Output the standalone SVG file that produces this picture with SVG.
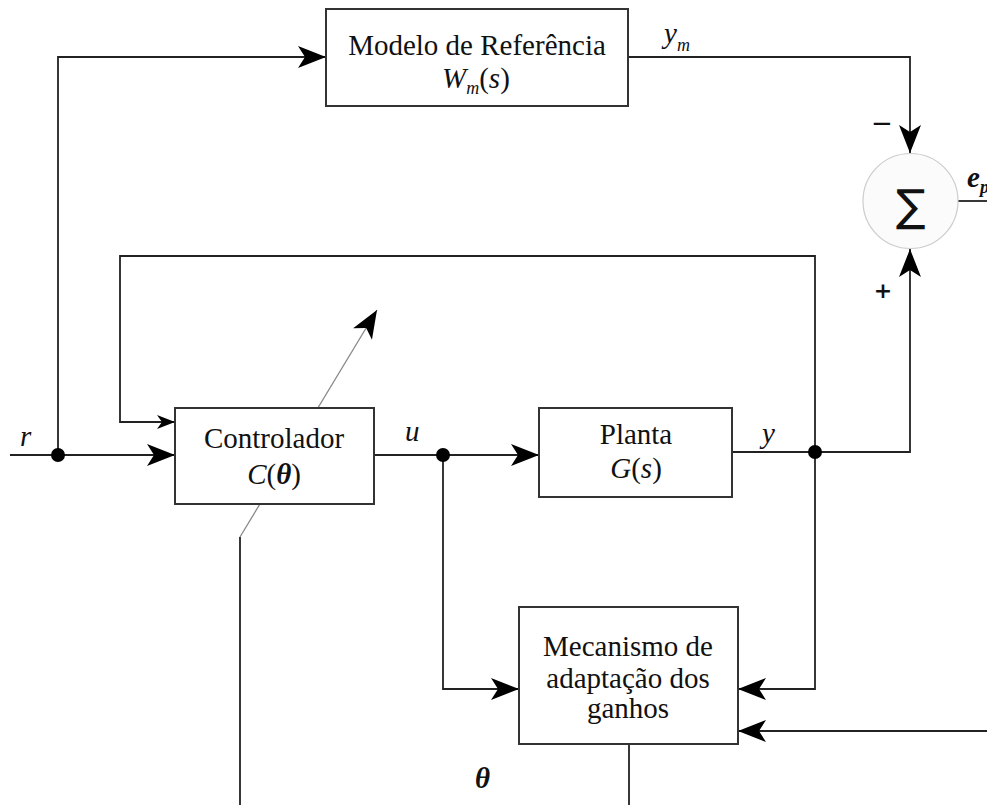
<svg xmlns="http://www.w3.org/2000/svg" width="987" height="805" viewBox="0 0 987 805">
<style>
.box{fill:#fff;stroke:#333;stroke-width:2}
.ln{fill:none;stroke:#222;stroke-width:1.8}
.t{font-family:"Liberation Serif","Times New Roman",serif;font-size:29px;fill:#111;text-anchor:middle}
.it{font-family:"Liberation Serif","Times New Roman",serif;font-style:italic;font-size:29px;fill:#111}
.sub{font-size:18px}
.dot{fill:#000}
.sg{font-family:"DejaVu Sans","Liberation Sans",sans-serif;fill:#111}
</style>
<defs>
<marker id="ah" markerUnits="userSpaceOnUse" viewBox="-29 -12 30 24" markerWidth="30" markerHeight="24" refX="0" refY="0" orient="auto">
<path d="M0,0 L-28,-11 L-21,0 L-28,11 Z" fill="#000"/>
</marker>
<marker id="ahs" markerUnits="userSpaceOnUse" viewBox="-19 -8 20 16" markerWidth="20" markerHeight="16" refX="0" refY="0" orient="auto">
<path d="M0,0 L-18,-7 L-13,0 L-18,7 Z" fill="#000"/>
</marker>
</defs>

<g id="connectors">
<path class="ln" d="M10,455 H175" marker-end="url(#ah)"/>
<path class="ln" d="M58,455 V57 H326" marker-end="url(#ah)"/>
<path class="ln" d="M628,57 H910 V153" marker-end="url(#ah)"/>
<path class="ln" d="M815,452 H910 V249" marker-end="url(#ah)"/>
<path class="ln" d="M958,201 H987"/>
<path class="ln" d="M815,452 V256 H120 V422 H175" marker-end="url(#ahs)"/>
<path class="ln" d="M374,455 H539" marker-end="url(#ah)"/>
<path class="ln" d="M732,452 H815"/>
<path class="ln" d="M443,455 V689 H519" marker-end="url(#ah)"/>
<path class="ln" d="M815,452 V689 H738" marker-end="url(#ah)"/>
<path class="ln" d="M987,731 H738" marker-end="url(#ah)"/>
<path class="ln" d="M629,744 V805"/>
<path class="ln" d="M240,805 V537"/>
<path d="M240,537 L377,310" fill="none" stroke="#888" stroke-width="1.3" marker-end="url(#ah)"/>
<circle class="dot" cx="58" cy="455" r="7"/>
<circle class="dot" cx="443" cy="455" r="7"/>
<circle class="dot" cx="815" cy="452" r="7"/>
</g>

<g id="modelo">
<rect class="box" x="326" y="9" width="302" height="97"/>
<text class="t" x="477" y="55">Modelo de Referência</text>
<text class="it" x="442" y="88">W<tspan class="sub" dy="6">m</tspan><tspan dy="-6" font-style="normal">(</tspan>s<tspan font-style="normal">)</tspan></text>
</g>

<g id="soma">
<circle cx="910.5" cy="201" r="47.5" fill="#fbfbfb" stroke="#ccc" stroke-width="1.2"/>
<text class="sg" x="910.5" y="221" font-size="44" text-anchor="middle">∑</text>
<text class="sg" x="882" y="132" font-size="26" text-anchor="middle">−</text>
<text class="sg" x="883" y="298" font-size="22" font-weight="bold" text-anchor="middle">+</text>
</g>

<g id="controlador">
<rect class="box" x="175" y="408" width="199" height="96"/>
<text class="t" x="274" y="448">Controlador</text>
<text class="it" x="274" y="484" text-anchor="middle">C<tspan font-style="normal">(</tspan><tspan font-weight="bold">θ</tspan><tspan font-style="normal">)</tspan></text>
</g>

<g id="planta">
<rect class="box" x="539" y="408" width="193" height="89"/>
<text class="t" x="636" y="444">Planta</text>
<text class="it" x="636" y="478" text-anchor="middle">G<tspan font-style="normal">(</tspan>s<tspan font-style="normal">)</tspan></text>
</g>

<g id="adaptacao">
<rect class="box" x="519" y="607" width="219" height="137"/>
<text class="t" x="628" y="656">Mecanismo de</text>
<text class="t" x="628" y="688">adaptação dos</text>
<text class="t" x="628" y="718">ganhos</text>
</g>

<g id="labels">
<text class="it" x="20" y="446">r</text>
<text class="it" x="405" y="441">u</text>
<text class="it" x="762" y="443">y</text>
<text class="it" x="664" y="43">y<tspan class="sub" dy="8">m</tspan></text>
<text class="it" x="967" y="187" font-weight="bold" font-size="29">e<tspan class="sub" dy="6">p</tspan></text>
<text class="it" x="475" y="788" font-weight="bold" font-size="25" font-family="'Liberation Sans',Arial,sans-serif">θ</text>
</g>
</svg>
